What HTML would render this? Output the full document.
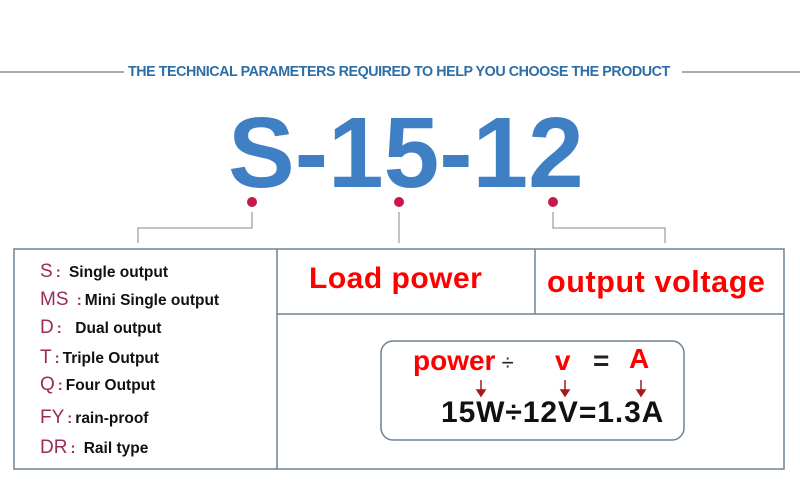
<!DOCTYPE html>
<html><head><style>
body{margin:0;width:800px;height:492px;background:#fff;position:relative;overflow:hidden;font-family:"Liberation Sans",sans-serif}
.a{position:absolute;white-space:nowrap}
.l{color:#9b2a5a;font-size:19px}
.d{color:#111;font-weight:bold;font-size:15.5px}
.c{font-size:15px;font-weight:bold;margin:0 3px}
</style></head><body>
<svg class="a" style="left:0;top:0" width="800" height="492">
<line x1="0" y1="72" x2="124" y2="72" stroke="#aaa" stroke-width="2"/>
<line x1="682" y1="72" x2="800" y2="72" stroke="#aaa" stroke-width="2"/>
<circle cx="252" cy="202" r="5" fill="#c8184a"/>
<circle cx="399" cy="202" r="5" fill="#c8184a"/>
<circle cx="553" cy="202" r="5" fill="#c8184a"/>
<polyline points="252,212 252,228 138,228 138,243" fill="none" stroke="#9aa3aa" stroke-width="1.3"/>
<line x1="399" y1="212" x2="399" y2="243" stroke="#9aa3aa" stroke-width="1.3"/>
<polyline points="553,212 553,228 665,228 665,243" fill="none" stroke="#9aa3aa" stroke-width="1.3"/>
<rect x="14" y="249" width="770" height="220" fill="none" stroke="#6d8293" stroke-width="1.5"/>
<line x1="277" y1="249" x2="277" y2="469" stroke="#6d8293" stroke-width="1.5"/>
<line x1="277" y1="314" x2="784" y2="314" stroke="#6d8293" stroke-width="1.5"/>
<line x1="535" y1="249" x2="535" y2="314" stroke="#6d8293" stroke-width="1.5"/>
<rect x="381" y="341" width="303" height="99" rx="12" fill="none" stroke="#6d8293" stroke-width="1.5"/>
<g stroke="#a31c1c" stroke-width="1.5" fill="#a31c1c">
<line x1="481" y1="380" x2="481" y2="394"/><path d="M477,390 L481,396 L485,390Z"/>
<line x1="565" y1="380" x2="565" y2="394"/><path d="M561,390 L565,396 L569,390Z"/>
<line x1="641" y1="380" x2="641" y2="394"/><path d="M637,390 L641,396 L645,390Z"/>
</g>
</svg>
<div class="a" style="left:128px;top:64px;font-size:14.3px;font-weight:bold;color:#2d6ea6;letter-spacing:-0.45px">THE TECHNICAL PARAMETERS REQUIRED TO HELP YOU CHOOSE THE PRODUCT</div>
<div class="a" style="left:228px;top:98px;font-size:100px;font-weight:bold;color:#3f7fc4;line-height:110px;letter-spacing:0px">S-15-12</div>
<div class="a l" style="left:40px;top:261px">S<span class="c">:</span> <span class="d">Single output</span></div>
<div class="a l" style="left:40px;top:289px">MS <span class="c">:</span><span class="d">Mini Single output</span></div>
<div class="a l" style="left:40px;top:317px">D<span class="c">:</span> &nbsp;<span class="d">Dual output</span></div>
<div class="a l" style="left:40px;top:347px">T<span class="c">:</span><span class="d">Triple Output</span></div>
<div class="a l" style="left:40px;top:374px">Q<span class="c">:</span><span class="d">Four Output</span></div>
<div class="a l" style="left:40px;top:407px">FY<span class="c">:</span><span class="d">rain-proof</span></div>
<div class="a l" style="left:40px;top:437px">DR<span class="c">:</span> <span class="d">Rail type</span></div>
<div class="a" style="left:309px;top:262px;font-size:30px;font-weight:bold;color:#f00;letter-spacing:0.5px">Load power</div>
<div class="a" style="left:547px;top:265px;font-size:30.5px;font-weight:bold;color:#f00;letter-spacing:0.6px">output voltage</div>
<div class="a" style="left:413px;top:345px;font-size:28px;font-weight:bold;color:#f00">power<span style="color:#222;font-size:22px;font-weight:normal"> ÷</span></div>
<div class="a" style="left:555px;top:345px;font-size:28px;font-weight:bold;color:#f00">v</div>
<div class="a" style="left:593px;top:345px;font-size:28px;font-weight:bold;color:#222">=</div>
<div class="a" style="left:629px;top:343px;font-size:28px;font-weight:bold;color:#f00">A</div>
<div class="a" style="left:441px;top:396px;font-size:30px;font-weight:bold;color:#111;letter-spacing:0.9px">15W÷12V=1.3A</div>
</body></html>
